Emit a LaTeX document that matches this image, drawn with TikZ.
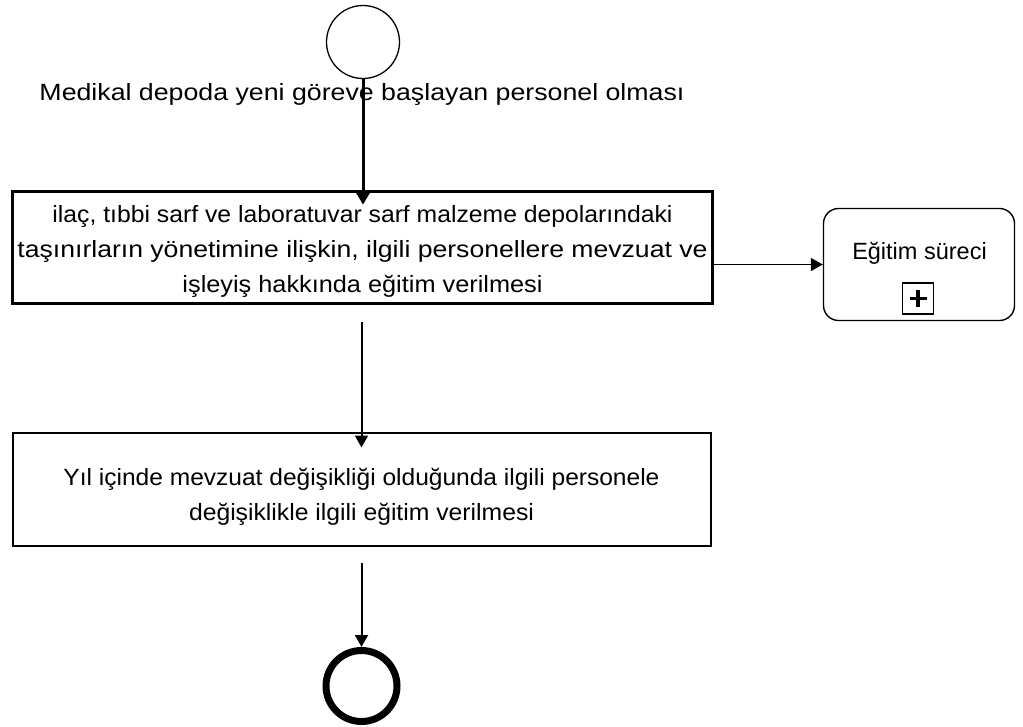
\documentclass[tikz,border=0pt]{standalone}
\usepackage{fontspec}
\setmainfont{Liberation Sans}
\usetikzlibrary{arrows.meta}
\newcommand{\fitw}[2]{\resizebox{#1}{\height}{#2}}
\tikzset{
  txt/.style={font=\fontsize{23.5}{35}\selectfont},
  event/.style={circle, draw, inner sep=0pt},
  task/.style={rectangle, draw, inner sep=0pt, align=center, txt},
  flow/.style={-{Triangle[length=12pt,width=13pt]}, line width=1.6pt},
}
\begin{document}
\begin{tikzpicture}[x=1pt,y=-1pt]
\useasboundingbox (0,0) rectangle (1023,726);
% start event
\node[event, line width=1.3pt, minimum size=73pt] (start) at (363,42) {};
\node[txt, anchor=base] (lbl) at (362,100) {\fitw{645pt}{Medikal depoda yeni göreve başlayan personel olması}};
% task 1
\node[task, line width=3.5pt, minimum width=700pt, minimum height=112pt] (t1) at (362.5,247.5)
  {\rule{0pt}{24pt}\fitw{620pt}{ilaç, tıbbi sarf ve laboratuvar sarf malzeme depolarındaki}\\
   \fitw{690pt}{taşınırların yönetimine ilişkin, ilgili personellere mevzuat ve}\\
   \fitw{360pt}{işleyiş hakkında eğitim verilmesi}};
% sub-process
\node[rectangle, draw, rounded corners=15pt, line width=1.4pt, inner sep=0pt,
      minimum width=191pt, minimum height=112pt] (sub) at (919,264.5) {};
\node[txt, anchor=base] (subtxt) at (919.5,259) {Eğitim süreci};
\node[rectangle, draw, line width=1.3pt, minimum size=31pt, inner sep=0pt] (plus) at (918,298.5) {};
\draw[line width=3.5pt] ([xshift=-8.5pt]plus.center) -- ([xshift=8.5pt]plus.center)
                        ([yshift=-8.5pt]plus.center) -- ([yshift=8.5pt]plus.center);
% task 2
\node[task, line width=2pt, minimum width=698pt, minimum height=113pt] (t2) at (361.5,489)
  {\rule{0pt}{32pt}\fitw{596pt}{Yıl içinde mevzuat değişikliği olduğunda ilgili personele}\\
   \fitw{345pt}{değişiklikle ilgili eğitim verilmesi}};
% end event
\node[event, line width=7pt, minimum size=71pt] (end) at (361.5,686) {};
% connectors
\coordinate (c3) at (361.5,322);
\coordinate (c4) at (361.5,563);
\draw[flow, line width=3pt, shorten >=-15pt] (start) -- (t1.north -| start.south);
\draw[flow] (t1.east |- sub.west) -- (sub.west);
\draw[flow, line width=2pt, shorten >=-16pt] (c3) -- (t2.north);
\draw[flow, line width=2pt] (c4) -- (end);
\end{tikzpicture}
\end{document}
